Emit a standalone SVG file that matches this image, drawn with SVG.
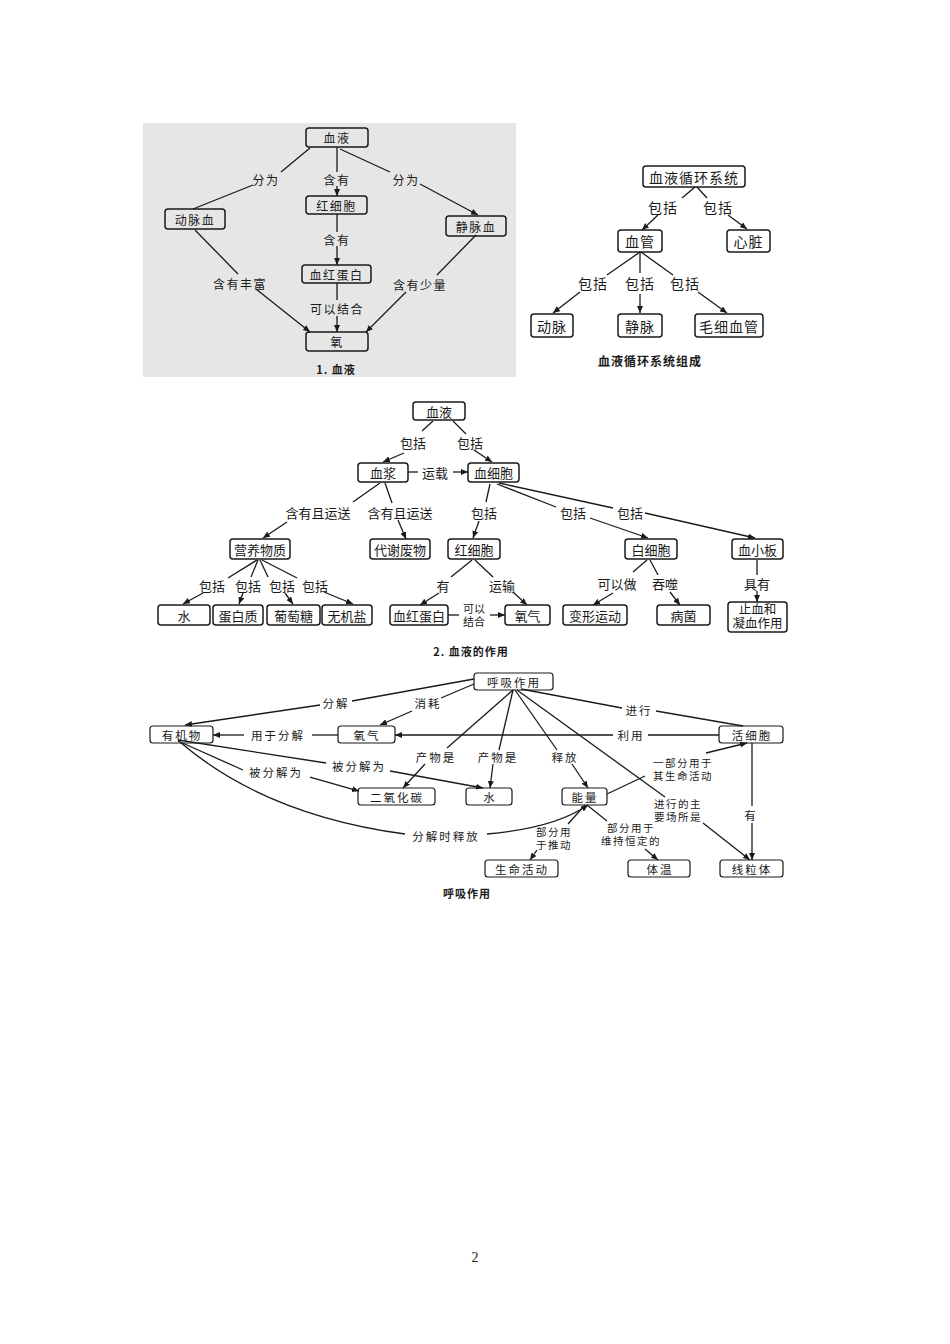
<svg xmlns="http://www.w3.org/2000/svg" width="950" height="1344" viewBox="0 0 950 1344">
<style>
.bg{fill:#e6e6e6}
.box{fill:none;stroke:#1a1a1a;stroke-width:1.5}
.box4{fill:none;stroke:#1a1a1a;stroke-width:1.2}
.ln{fill:none;stroke:#1a1a1a;stroke-width:1.3}
.t{font-family:"Noto Sans CJK SC",sans-serif;font-size:12px;text-anchor:middle;dominant-baseline:central;fill:#1a1a1a;letter-spacing:1.5px}
.t2{font-family:"Noto Sans CJK SC",sans-serif;font-size:14px;text-anchor:middle;dominant-baseline:central;fill:#1a1a1a;letter-spacing:1px}
.t3{font-family:"Noto Sans CJK SC",sans-serif;font-size:13px;text-anchor:middle;dominant-baseline:central;fill:#1a1a1a}
.t3m{font-family:"Liberation Sans","Noto Sans CJK SC",sans-serif;font-size:12.5px;text-anchor:middle;dominant-baseline:central;fill:#1a1a1a}
.t3s{font-family:"Liberation Sans","Noto Sans CJK SC",sans-serif;font-size:11px;text-anchor:middle;dominant-baseline:central;fill:#1a1a1a}
.t4{font-family:"Noto Sans CJK SC",sans-serif;font-size:11.5px;text-anchor:middle;dominant-baseline:central;fill:#1a1a1a;letter-spacing:2px}
.t4s{font-family:"Liberation Sans","Noto Sans CJK SC",sans-serif;font-size:10.5px;text-anchor:middle;dominant-baseline:central;fill:#1a1a1a;letter-spacing:1.5px}
.cap{font-family:"Noto Sans CJK SC",sans-serif;font-size:11px;font-weight:bold;text-anchor:middle;dominant-baseline:central;fill:#1a1a1a;letter-spacing:1px}
.pn{font-family:"Liberation Serif",serif;font-size:14px;text-anchor:middle;fill:#222}
</style>
<defs>
<marker id="ar" markerWidth="8" markerHeight="6" refX="7" refY="3" orient="auto" markerUnits="userSpaceOnUse">
<path d="M0,0 L7,3 L0,6 z" fill="#1a1a1a"/>
</marker>
</defs>
<rect width="950" height="1344" fill="#fff"/>

<!-- Diagram 1 -->
<rect class="bg" x="143" y="123" width="373" height="254"/>
<g id="d1-connectors">
<path class="ln" d="M310,148 L281,172 M253,185 L193,209"/>
<text class="t" x="266" y="179">分为</text>
<path class="ln" d="M337,147 L337,172"/>
<path class="ln" d="M337,186 L337,196" marker-end="url(#ar)"/>
<text class="t" x="337" y="179">含有</text>
<path class="ln" d="M340,149 L390,172"/>
<path class="ln" d="M420,184 L478,215" marker-end="url(#ar)"/>
<text class="t" x="406" y="179">分为</text>
<path class="ln" d="M337,214 L337,232"/>
<path class="ln" d="M337,246 L337,265" marker-end="url(#ar)"/>
<text class="t" x="337" y="239">含有</text>
<path class="ln" d="M337,283 L337,300"/>
<path class="ln" d="M337,316 L337,332" marker-end="url(#ar)"/>
<text class="t" x="337" y="308">可以结合</text>
<path class="ln" d="M195,230 L238,274"/>
<path class="ln" d="M256,289 L310,332" marker-end="url(#ar)"/>
<text class="t" x="240" y="283">含有丰富</text>
<path class="ln" d="M476,235 L437,275"/>
<path class="ln" d="M406,292 L366,332" marker-end="url(#ar)"/>
<text class="t" x="420" y="284">含有少量</text>
</g>
<g id="d1-xueye"><rect class="box" x="306" y="128" width="62" height="19" rx="3"/><text class="t" x="337" y="137.5">血液</text></g>
<g id="d1-hongxibao"><rect class="box" x="306" y="196" width="61" height="18" rx="3"/><text class="t" x="336.5" y="205">红细胞</text></g>
<g id="d1-dongmaixue"><rect class="box" x="165" y="209" width="60" height="20" rx="3"/><text class="t" x="195" y="219">动脉血</text></g>
<g id="d1-jingmaixue"><rect class="box" x="446" y="216" width="60" height="20" rx="3"/><text class="t" x="476" y="226">静脉血</text></g>
<g id="d1-xuehongdanbai"><rect class="box" x="302" y="265" width="69" height="18" rx="3"/><text class="t" x="336.5" y="274">血红蛋白</text></g>
<g id="d1-yang"><rect class="box" x="306" y="332" width="62" height="19" rx="3"/><text class="t" x="337" y="341.5">氧</text></g>
<text class="cap" x="336" y="369">1. 血液</text>

<!-- Diagram 2 -->
<g id="d2-connectors">
<path class="ln" d="M695,187 L682,198"/>
<path class="ln" d="M658,215 L642,230" marker-end="url(#ar)"/>
<text class="t2" x="663" y="207">包括</text>
<path class="ln" d="M697,187 L707,198"/>
<path class="ln" d="M728,215 L747,229" marker-end="url(#ar)"/>
<text class="t2" x="718" y="207">包括</text>
<path class="ln" d="M640,252 L607,275"/>
<path class="ln" d="M580,292 L553,313" marker-end="url(#ar)"/>
<text class="t2" x="593" y="283">包括</text>
<path class="ln" d="M640,252 L640,273"/>
<path class="ln" d="M640,294 L640,313" marker-end="url(#ar)"/>
<text class="t2" x="640" y="283">包括</text>
<path class="ln" d="M641,252 L673,275"/>
<path class="ln" d="M698,292 L727,313" marker-end="url(#ar)"/>
<text class="t2" x="685" y="283">包括</text>
</g>
<g id="d2-xunhuan"><rect class="box" x="643" y="166" width="102" height="21" rx="3"/><text class="t2" x="694" y="176.5">血液循环系统</text></g>
<g id="d2-xueguan"><rect class="box" x="618" y="230" width="44" height="22" rx="3"/><text class="t2" x="640" y="241">血管</text></g>
<g id="d2-xinzang"><rect class="box" x="727" y="230" width="43" height="22" rx="3"/><text class="t2" x="748.5" y="241">心脏</text></g>
<g id="d2-dongmai"><rect class="box" x="531" y="314" width="42" height="23" rx="3"/><text class="t2" x="552" y="325.5">动脉</text></g>
<g id="d2-jingmai"><rect class="box" x="618" y="314" width="44" height="23" rx="3"/><text class="t2" x="640" y="325.5">静脉</text></g>
<g id="d2-maoxi"><rect class="box" x="695" y="314" width="68" height="23" rx="3"/><text class="t2" x="729" y="325.5">毛细血管</text></g>
<text class="cap" x="650" y="360" style="font-size:12px">血液循环系统组成</text>

<!-- Diagram 3 -->
<g id="d3-connectors">
<path class="ln" d="M433,421 L422,431"/>
<path class="ln" d="M404,453 L383,462" marker-end="url(#ar)"/>
<text class="t3" x="413" y="442">包括</text>
<path class="ln" d="M453,421 L466,434"/>
<path class="ln" d="M474,450 L492,462" marker-end="url(#ar)"/>
<text class="t3" x="470" y="442">包括</text>
<path class="ln" d="M408,472 L418,472"/>
<path class="ln" d="M453,472 L468,472" marker-end="url(#ar)"/>
<text class="t3" x="435" y="472">运载</text>
<path class="ln" d="M380,483 L353,502"/>
<path class="ln" d="M287,522 L263,538" marker-end="url(#ar)"/>
<text class="t3" x="318" y="512">含有且运送</text>
<path class="ln" d="M385,483 L392,503"/>
<path class="ln" d="M398,520 L406,539" marker-end="url(#ar)"/>
<text class="t3" x="400" y="512">含有且运送</text>
<path class="ln" d="M490,484 L486,502"/>
<path class="ln" d="M479,521 L473,538" marker-end="url(#ar)"/>
<text class="t3" x="484" y="512">包括</text>
<path class="ln" d="M497,484 L556,507"/>
<path class="ln" d="M590,518 L648,538" marker-end="url(#ar)"/>
<text class="t3" x="573" y="512">包括</text>
<path class="ln" d="M499,483 L613,508"/>
<path class="ln" d="M645,513 L755,538" marker-end="url(#ar)"/>
<text class="t3" x="630" y="512">包括</text>
<path class="ln" d="M257,560 L228,578"/>
<path class="ln" d="M203,593 L183,604" marker-end="url(#ar)"/>
<text class="t3" x="212" y="585">包括</text>
<path class="ln" d="M258,560 L251,577"/>
<path class="ln" d="M243,593 L239,604" marker-end="url(#ar)"/>
<text class="t3" x="248" y="585">包括</text>
<path class="ln" d="M260,560 L268,577"/>
<path class="ln" d="M285,593 L293,604" marker-end="url(#ar)"/>
<text class="t3" x="282" y="585">包括</text>
<path class="ln" d="M262,560 L297,578"/>
<path class="ln" d="M324,592 L353,604" marker-end="url(#ar)"/>
<text class="t3" x="315" y="585">包括</text>
<path class="ln" d="M472,560 L451,577"/>
<path class="ln" d="M439,593 L420,605" marker-end="url(#ar)"/>
<text class="t3" x="443" y="585">有</text>
<path class="ln" d="M475,560 L493,577"/>
<path class="ln" d="M513,592 L527,605" marker-end="url(#ar)"/>
<text class="t3" x="502" y="585">运输</text>
<path class="ln" d="M448,615 L459,615"/>
<path class="ln" d="M490,615 L505,615" marker-end="url(#ar)"/>
<text class="t3s"><tspan x="474" y="608.5">可以</tspan><tspan x="474" y="621.5">结合</tspan></text>
<path class="ln" d="M647,560 L633,572"/>
<path class="ln" d="M613,593 L593,605" marker-end="url(#ar)"/>
<text class="t3" x="617" y="583">可以做</text>
<path class="ln" d="M650,560 L658,575"/>
<path class="ln" d="M670,592 L680,605" marker-end="url(#ar)"/>
<text class="t3" x="665" y="583">吞噬</text>
<path class="ln" d="M757,560 L757,575"/>
<path class="ln" d="M757,591 L757,602" marker-end="url(#ar)"/>
<text class="t3" x="757" y="583">具有</text>
</g>
<g id="d3-xueye"><rect class="box" x="413" y="402" width="52" height="18" rx="3"/><text class="t3" x="439" y="411">血液</text></g>
<g id="d3-xuejiang"><rect class="box" x="358" y="463" width="50" height="19" rx="3"/><text class="t3" x="383" y="472.5">血浆</text></g>
<g id="d3-xuexibao"><rect class="box" x="468" y="463" width="51" height="19" rx="3"/><text class="t3" x="493.5" y="472.5">血细胞</text></g>
<g id="d3-yingyang"><rect class="box" x="230" y="539" width="60" height="20" rx="3"/><text class="t3" x="260" y="549">营养物质</text></g>
<g id="d3-daixie"><rect class="box" x="370" y="539" width="60" height="20" rx="3"/><text class="t3" x="400" y="549">代谢废物</text></g>
<g id="d3-hongxibao"><rect class="box" x="448" y="539" width="52" height="20" rx="3"/><text class="t3" x="474" y="549">红细胞</text></g>
<g id="d3-baixibao"><rect class="box" x="625" y="539" width="52" height="20" rx="3"/><text class="t3" x="651" y="549">白细胞</text></g>
<g id="d3-xuexiaoban"><rect class="box" x="732" y="539" width="51" height="20" rx="3"/><text class="t3" x="757.5" y="549">血小板</text></g>
<g id="d3-shui"><rect class="box" x="158" y="605" width="52" height="20" rx="3"/><text class="t3" x="184" y="615">水</text></g>
<g id="d3-danbaizhi"><rect class="box" x="213" y="605" width="50" height="20" rx="3"/><text class="t3" x="238" y="615">蛋白质</text></g>
<g id="d3-putaotang"><rect class="box" x="267" y="605" width="53" height="20" rx="3"/><text class="t3" x="293.5" y="615">葡萄糖</text></g>
<g id="d3-wujiyan"><rect class="box" x="322" y="605" width="50" height="20" rx="3"/><text class="t3" x="347" y="615">无机盐</text></g>
<g id="d3-xuehong"><rect class="box" x="390" y="605" width="58" height="20" rx="3"/><text class="t3" x="419" y="615">血红蛋白</text></g>
<g id="d3-yangqi"><rect class="box" x="505" y="605" width="45" height="20" rx="3"/><text class="t3" x="527.5" y="615">氧气</text></g>
<g id="d3-bianxing"><rect class="box" x="563" y="605" width="64" height="20" rx="3"/><text class="t3" x="595" y="615">变形运动</text></g>
<g id="d3-bingjun"><rect class="box" x="657" y="605" width="53" height="20" rx="3"/><text class="t3" x="683.5" y="615">病菌</text></g>
<g id="d3-zhixue"><rect class="box" x="728" y="602" width="59" height="30" rx="3"/><text class="t3m"><tspan x="757.5" y="609.5">止血和</tspan><tspan x="757.5" y="624">凝血作用</tspan></text></g>
<text class="cap" x="471" y="651">2. 血液的作用</text>

<!-- Diagram 4 -->
<g id="d4-connectors">
<path class="ln" d="M474,679 L352,701"/>
<path class="ln" d="M320,705 L185,725" marker-end="url(#ar)"/>
<text class="t4" x="336" y="703">分解</text>
<path class="ln" d="M474,684 L441,698"/>
<path class="ln" d="M412,711 L380,725" marker-end="url(#ar)"/>
<text class="t4" x="428" y="703">消耗</text>
<path class="ln" d="M719,735 L648,735"/>
<path class="ln" d="M613,735 L395,735" marker-end="url(#ar)"/>
<text class="t4" x="631" y="735">利用</text>
<path class="ln" d="M338,735 L312,735"/>
<path class="ln" d="M244,735 L213,735" marker-end="url(#ar)"/>
<text class="t4" x="278" y="735">用于分解</text>
<path class="ln" d="M521,689 L622,708"/>
<path class="ln" d="M656,711 L743,726"/>
<text class="t4" x="639" y="710">进行</text>
<path class="ln" d="M513,690 L447,748"/>
<path class="ln" d="M425,764 L403,788" marker-end="url(#ar)"/>
<text class="t4" x="436" y="757">产物是</text>
<path class="ln" d="M513,690 L499,750"/>
<path class="ln" d="M493,764 L490,788" marker-end="url(#ar)"/>
<text class="t4" x="498" y="757">产物是</text>
<path class="ln" d="M515,690 L557,750"/>
<path class="ln" d="M572,764 L588,788" marker-end="url(#ar)"/>
<text class="t4" x="565" y="757">释放</text>
<path class="ln" d="M517,690 L665,797"/>
<path class="ln" d="M703,823 L750,860" marker-end="url(#ar)"/>
<text class="t4s"><tspan x="678" y="803.5">进行的主</tspan><tspan x="678" y="816.5">要场所是</tspan></text>
<path class="ln" d="M178,740 L326,763"/>
<path class="ln" d="M390,771 L483,788" marker-end="url(#ar)"/>
<text class="t4" x="359" y="766">被分解为</text>
<path class="ln" d="M178,741 L243,770"/>
<path class="ln" d="M310,777 L359,791" marker-end="url(#ar)"/>
<text class="t4" x="276" y="772">被分解为</text>
<path class="ln" d="M180,742 Q265,815 405,834"/>
<path class="ln" d="M487,834 Q555,828 588,805" marker-end="url(#ar)"/>
<text class="t4" x="446" y="836">分解时释放</text>
<path class="ln" d="M607,794 L645,776"/>
<path class="ln" d="M706,753 L747,743" marker-end="url(#ar)"/>
<text class="t4s"><tspan x="683" y="763">一部分用于</tspan><tspan x="683" y="776">其生命活动</tspan></text>
<path class="ln" d="M585,805 L568,824"/>
<path class="ln" d="M537,850 L530,860" marker-end="url(#ar)"/>
<text class="t4s"><tspan x="554" y="832">部分用</tspan><tspan x="554" y="845">于推动</tspan></text>
<path class="ln" d="M587,805 L607,821"/>
<path class="ln" d="M645,849 L658,860" marker-end="url(#ar)"/>
<text class="t4s"><tspan x="631" y="828">部分用于</tspan><tspan x="631" y="841">维持恒定的</tspan></text>
<path class="ln" d="M752,743 L752,806"/>
<path class="ln" d="M752,823 L752,860" marker-end="url(#ar)"/>
<text class="t4" x="751" y="815">有</text>
</g>
<g id="d4-huxi"><rect class="box4" x="474" y="673" width="79" height="17" rx="3"/><text class="t4" x="514" y="681.5">呼吸作用</text></g>
<g id="d4-youjiwu"><rect class="box4" x="150" y="726" width="63" height="17" rx="3"/><text class="t4" x="182" y="734.5">有机物</text></g>
<g id="d4-yangqi"><rect class="box4" x="338" y="726" width="57" height="17" rx="3"/><text class="t4" x="367" y="734.5">氧气</text></g>
<g id="d4-huoxibao"><rect class="box4" x="719" y="726" width="64" height="17" rx="3"/><text class="t4" x="752" y="734.5">活细胞</text></g>
<g id="d4-eryanghuatan"><rect class="box4" x="358" y="788" width="77" height="17" rx="3"/><text class="t4" x="397" y="796.5">二氧化碳</text></g>
<g id="d4-shui"><rect class="box4" x="466" y="788" width="46" height="17" rx="3"/><text class="t4" x="490" y="796.5">水</text></g>
<g id="d4-nengliang"><rect class="box4" x="562" y="788" width="45" height="17" rx="3"/><text class="t4" x="585" y="796.5">能量</text></g>
<g id="d4-shengming"><rect class="box4" x="485" y="860" width="73" height="17" rx="3"/><text class="t4" x="522" y="868.5">生命活动</text></g>
<g id="d4-tiwen"><rect class="box4" x="628" y="860" width="62" height="17" rx="3"/><text class="t4" x="660" y="868.5">体温</text></g>
<g id="d4-xianliti"><rect class="box4" x="720" y="860" width="63" height="17" rx="3"/><text class="t4" x="752" y="868.5">线粒体</text></g>
<text class="cap" x="467" y="893">呼吸作用</text>

<text class="pn" x="475" y="1262">2</text>
</svg>
